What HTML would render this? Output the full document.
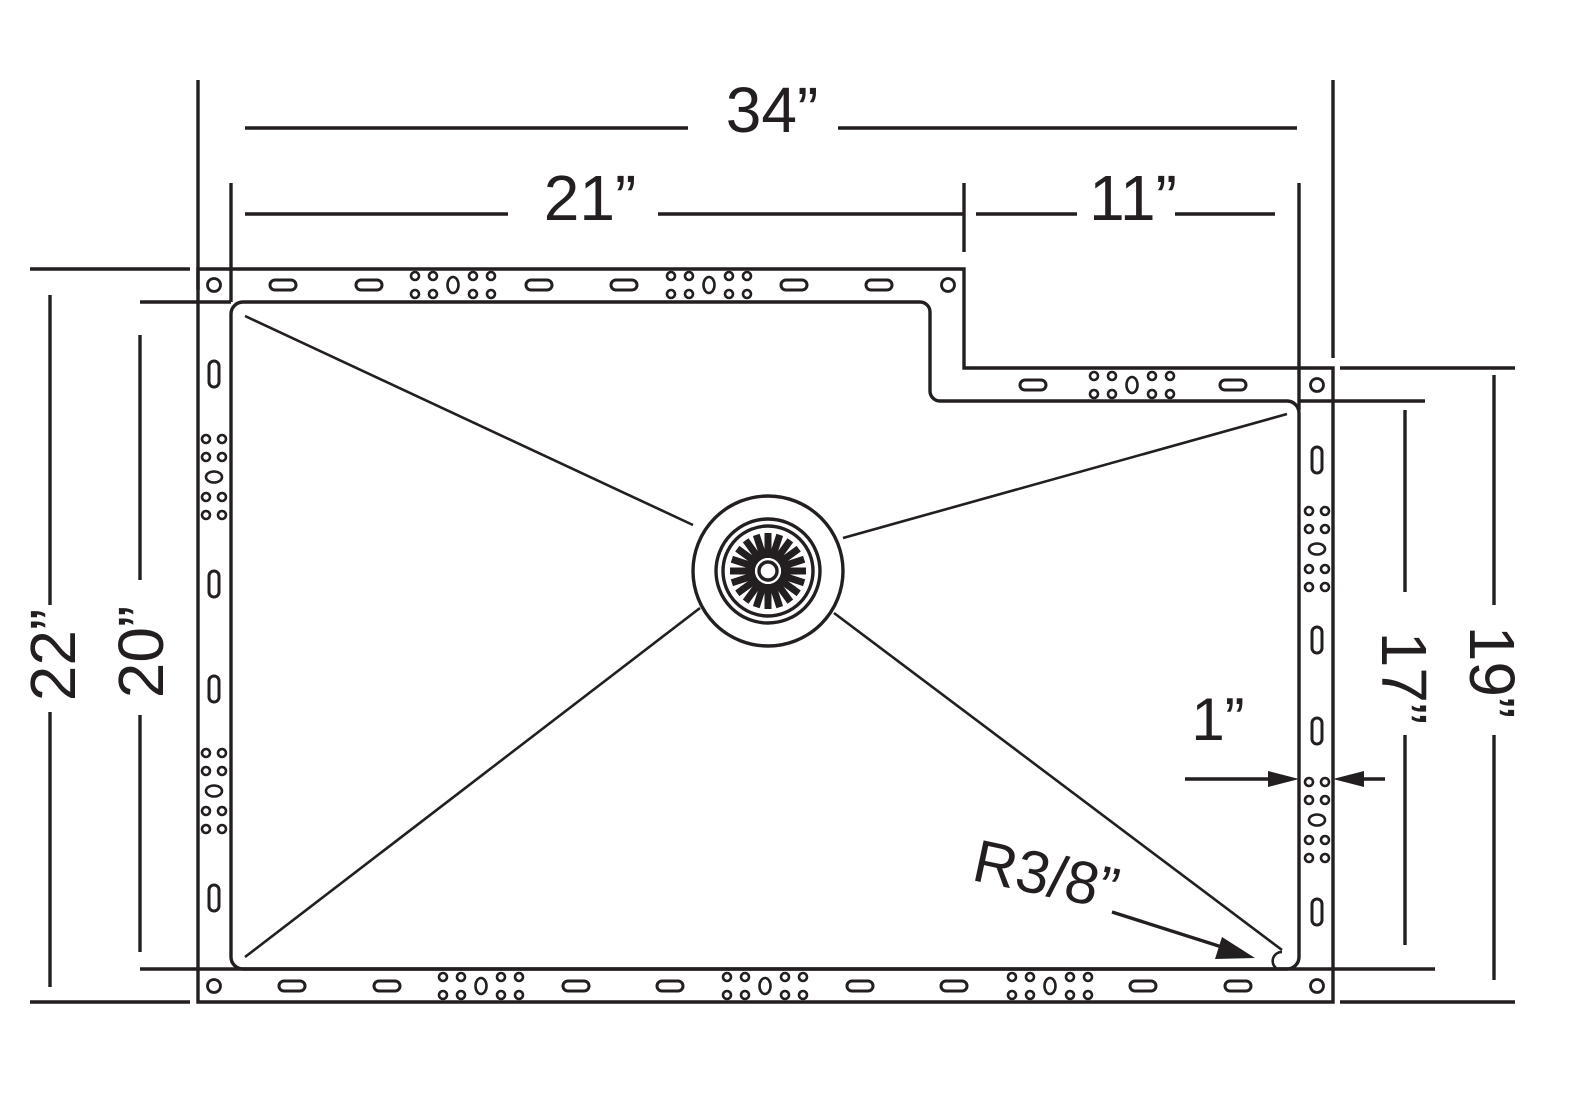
<!DOCTYPE html>
<html><head><meta charset="utf-8"><style>
html,body{margin:0;padding:0;background:#fff}
svg{display:block}
text{font-family:"Liberation Sans",sans-serif;fill:#231f20}
</style></head><body>
<svg width="1594" height="1116" viewBox="0 0 1594 1116" xmlns="http://www.w3.org/2000/svg">
<defs>
<rect id="hs" x="-13" y="-5" width="26" height="10" rx="5" fill="none" stroke="#231f20" stroke-width="3"/>
<rect id="vs" x="-5" y="-13" width="10" height="26" rx="5" fill="none" stroke="#231f20" stroke-width="3"/>
<g id="hc" fill="none" stroke="#231f20" stroke-width="2.6">
<circle cx="-38" cy="-9" r="4"/><circle cx="-20" cy="-9" r="4"/><circle cx="-38" cy="9" r="4"/><circle cx="-20" cy="9" r="4"/>
<circle cx="20" cy="-9" r="4"/><circle cx="38" cy="-9" r="4"/><circle cx="20" cy="9" r="4"/><circle cx="38" cy="9" r="4"/>
<ellipse cx="0" cy="0" rx="5.5" ry="8"/></g>
<g id="vc" fill="none" stroke="#231f20" stroke-width="2.6">
<circle cx="-8" cy="-38" r="4"/><circle cx="8" cy="-38" r="4"/><circle cx="-8" cy="-20" r="4"/><circle cx="8" cy="-20" r="4"/>
<circle cx="-8" cy="20" r="4"/><circle cx="8" cy="20" r="4"/><circle cx="-8" cy="38" r="4"/><circle cx="8" cy="38" r="4"/>
<ellipse cx="0" cy="0" rx="8" ry="5.5"/></g>
<rect id="sp" x="-3.5" y="-38" width="7" height="25" fill="#231f20"/>
</defs>
<g stroke="#231f20" stroke-width="3.4" fill="none">
<path d="M198,269 H964 V368 H1333 V1002 H198 Z"/>
<path d="M243,302 H920 A10,10 0 0 1 930,312 V391 A10,10 0 0 0 940,401 H1287 A12,12 0 0 1 1299,413 V957 A12,12 0 0 1 1287,969 H243 A12,12 0 0 1 231,957 V314 A12,12 0 0 1 243,302 Z"/>
<path d="M1276,968 A9,9 0 0 1 1282,952" stroke-width="2.5"/>
<line x1="198" y1="80" x2="198" y2="290"/>
<line x1="1333" y1="80" x2="1333" y2="358"/>
<line x1="231" y1="183" x2="231" y2="302"/>
<line x1="1299" y1="183" x2="1299" y2="410"/>
<line x1="964" y1="183" x2="964" y2="252"/>
<line x1="30" y1="269" x2="190" y2="269"/>
<line x1="30" y1="1002" x2="190" y2="1002"/>
<line x1="140" y1="302" x2="231" y2="302"/>
<line x1="140" y1="969" x2="1435" y2="969"/>
<line x1="1340" y1="368" x2="1515" y2="368"/>
<line x1="1299" y1="401" x2="1425" y2="401"/>
<line x1="1340" y1="1002" x2="1515" y2="1002"/>
<line x1="245" y1="128" x2="688" y2="128"/><line x1="838" y1="128" x2="1297" y2="128"/>
<line x1="245" y1="214" x2="508" y2="214"/><line x1="658" y1="214" x2="964" y2="214"/>
<line x1="976" y1="214" x2="1077" y2="214"/><line x1="1175" y1="214" x2="1275" y2="214"/>
<line x1="50" y1="295" x2="50" y2="605"/><line x1="50" y1="712" x2="50" y2="987"/>
<line x1="140" y1="335" x2="140" y2="580"/><line x1="140" y1="715" x2="140" y2="952"/>
<line x1="1494" y1="375" x2="1494" y2="605"/><line x1="1494" y1="735" x2="1494" y2="980"/>
<line x1="1405" y1="410" x2="1405" y2="592"/><line x1="1405" y1="735" x2="1405" y2="945"/>
<line x1="1185" y1="779" x2="1280" y2="779"/><line x1="1350" y1="779" x2="1385" y2="779"/>
<line x1="1112" y1="912" x2="1225" y2="948"/>
<g stroke-width="2.6">
<line x1="245" y1="316" x2="693" y2="525"/>
<line x1="1287" y1="414" x2="843" y2="538"/>
<line x1="245" y1="957" x2="700" y2="608"/>
<line x1="1282" y1="950" x2="834" y2="613"/>
</g>
<circle cx="768" cy="571" r="75"/>
<circle cx="768" cy="571" r="52"/>
<circle cx="768" cy="571" r="45"/>
<circle cx="768" cy="571" r="9"/>
</g>
<polygon points="1299,779 1268,771 1268,787" fill="#231f20"/>
<polygon points="1333,779 1364,771 1364,787" fill="#231f20"/>
<polygon points="1255,958 1222,937 1215,959" fill="#231f20"/>
<g transform="translate(768,571)">
<use href="#sp" transform="rotate(0)"/><use href="#sp" transform="rotate(18)"/><use href="#sp" transform="rotate(36)"/><use href="#sp" transform="rotate(54)"/><use href="#sp" transform="rotate(72)"/>
<use href="#sp" transform="rotate(90)"/><use href="#sp" transform="rotate(108)"/><use href="#sp" transform="rotate(126)"/><use href="#sp" transform="rotate(144)"/><use href="#sp" transform="rotate(162)"/>
<use href="#sp" transform="rotate(180)"/><use href="#sp" transform="rotate(198)"/><use href="#sp" transform="rotate(216)"/><use href="#sp" transform="rotate(234)"/><use href="#sp" transform="rotate(252)"/>
<use href="#sp" transform="rotate(270)"/><use href="#sp" transform="rotate(288)"/><use href="#sp" transform="rotate(306)"/><use href="#sp" transform="rotate(324)"/><use href="#sp" transform="rotate(342)"/>
</g>
<g fill="none" stroke="#231f20" stroke-width="2.8">
<circle cx="214" cy="285" r="6.5"/><circle cx="948" cy="285" r="6.5"/><circle cx="1317" cy="385" r="6.5"/>
<circle cx="214" cy="986" r="6.5"/><circle cx="1317" cy="986" r="6.5"/>
</g>
<use href="#hs" x="283" y="285"/><use href="#hs" x="369" y="285"/><use href="#hc" x="453" y="285"/>
<use href="#hs" x="539" y="285"/><use href="#hs" x="624" y="285"/><use href="#hc" x="709" y="285"/>
<use href="#hs" x="794" y="285"/><use href="#hs" x="879" y="285"/>
<use href="#hs" x="1033" y="385"/><use href="#hc" x="1132" y="385"/><use href="#hs" x="1233" y="385"/>
<use href="#hs" x="292" y="986"/><use href="#hs" x="387" y="986"/><use href="#hc" x="481" y="986"/>
<use href="#hs" x="576" y="986"/><use href="#hs" x="670" y="986"/><use href="#hc" x="765" y="986"/>
<use href="#hs" x="860" y="986"/><use href="#hs" x="954" y="986"/><use href="#hc" x="1050" y="986"/>
<use href="#hs" x="1143" y="986"/><use href="#hs" x="1238" y="986"/>
<use href="#vs" x="214" y="374"/><use href="#vc" x="214" y="477"/><use href="#vs" x="214" y="584"/>
<use href="#vs" x="214" y="689"/><use href="#vc" x="214" y="791"/><use href="#vs" x="214" y="898"/>
<use href="#vs" x="1317" y="460"/><use href="#vc" x="1317" y="549"/><use href="#vs" x="1317" y="640"/>
<use href="#vs" x="1317" y="731"/><use href="#vc" x="1317" y="820"/><use href="#vs" x="1317" y="912"/>
<text x="772" y="132" font-size="64" text-anchor="middle">34”</text>
<text x="590" y="220" font-size="64" text-anchor="middle">21”</text>
<text x="1133" y="220" font-size="64" text-anchor="middle">11”</text>
<text transform="translate(75,655) rotate(-90)" font-size="64" text-anchor="middle">22”</text>
<text transform="translate(163,652) rotate(-90)" font-size="64" text-anchor="middle">20”</text>
<text transform="translate(1470,672) rotate(90)" font-size="64" text-anchor="middle">19”</text>
<text transform="translate(1382,678) rotate(90)" font-size="64" text-anchor="middle">17”</text>
<text x="1218" y="740" font-size="60" text-anchor="middle">1”</text>
<text transform="translate(1042,895) rotate(12)" font-size="60" text-anchor="middle">R3/8”</text>
</svg>
</body></html>
